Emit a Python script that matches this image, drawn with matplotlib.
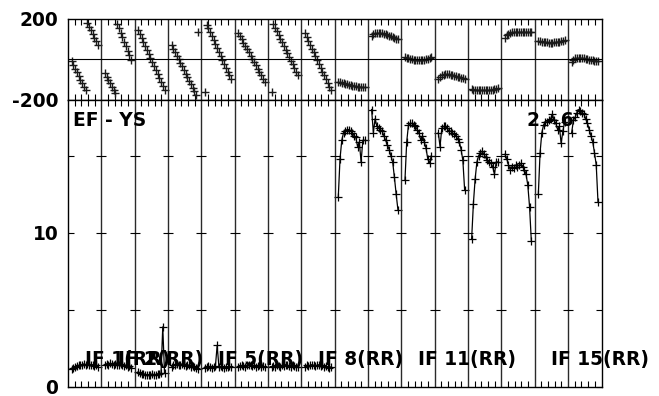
import numpy as np
import matplotlib
matplotlib.use('Agg')
import matplotlib.pyplot as plt

# 16 IFs, 16 channels each
n_if = 16
n_chan = 16
chan = np.arange(n_chan)

# phase (deg) per IF
phase_01 = [-10, -28, -46, -65, -83, -101, -119, -137, -155, 178, 161, 143, 125, 107, 90, 72]
phase_02 = [-70, -87, -104, -120, -137, -153, -168, 175, 153, 131, 109, 87, 64, 42, 20, -2]
phase_03 = [145, 125, 105, 85, 65, 45, 25, 5, -15, -35, -55, -75, -95, -115, -135, -155]
phase_04 = [70, 52, 35, 17, -1, -18, -36, -54, -71, -89, -107, -124, -142, -160, -178, 137]
phase_05 = [-163, 172, 153, 133, 114, 94, 75, 56, 36, 17, -3, -22, -41, -61, -80, -99]
phase_06 = [132, 116, 99, 83, 67, 50, 34, 18, 1, -15, -31, -48, -64, -80, -97, -113]
phase_07 = [-163, 175, 157, 139, 120, 102, 84, 66, 48, 29, 11, -7, -25, -44, -62, -80]
phase_08 = [128, 109, 90, 71, 53, 34, 15, -4, -23, -42, -61, -80, -98, -117, -136, -155]
phase_09 = [-112, -115, -118, -120, -123, -125, -127, -129, -131, -133, -135, -136, -138, -139, -139, -137]
phase_10 = [118, 126, 130, 132, 132, 131, 129, 127, 124, 121, 118, 114, 110, 106, 102, 100]
phase_11 = [10, 7, 4, 2, 0, -2, -3, -4, -5, -5, -4, -2, 0, 3, 7, 12]
phase_12 = [-98, -88, -80, -76, -74, -74, -75, -77, -79, -81, -84, -86, -89, -92, -95, -97]
phase_13 = [-150, -151, -152, -153, -154, -155, -155, -155, -155, -154, -153, -152, -151, -149, -147, -143]
phase_14 = [108, 120, 127, 131, 134, 136, 137, 137, 137, 137, 136, 136, 135, 134, 134, 133]
phase_15 = [92, 90, 88, 86, 85, 84, 83, 83, 83, 84, 85, 86, 88, 90, 93, 98]
phase_16 = [-13, -2, 5, 8, 8, 7, 6, 4, 2, 0, -2, -4, -6, -8, -9, -10]

# amplitude per IF
amp_01 = [1.15, 1.25, 1.3, 1.35, 1.4, 1.45, 1.4, 1.5, 1.45, 1.5, 1.45, 1.4, 1.45, 1.35, 1.4, 1.3]
amp_02 = [1.45, 1.5, 1.45, 1.55, 1.5, 1.45, 1.5, 1.4, 1.45, 1.5, 1.4, 1.35, 1.4, 1.3, 1.35, 1.25]
amp_03 = [1.0, 0.9, 0.85, 0.85, 0.8, 0.8, 0.8, 0.8, 0.85, 0.8, 0.8, 0.85, 0.85, 0.9, 3.9, 0.9]
amp_04 = [1.3, 1.4, 1.45, 1.5, 1.4, 1.45, 1.5, 1.4, 1.35, 1.45, 1.4, 1.3, 1.35, 1.3, 1.25, 1.2]
amp_05 = [1.25, 1.3, 1.35, 1.3, 1.25, 1.3, 1.35, 2.7, 1.3, 1.35, 1.3, 1.25, 1.3, 1.3, 1.35, 1.3]
amp_06 = [1.3, 1.35, 1.4, 1.35, 1.3, 1.4, 1.45, 1.4, 1.35, 1.4, 1.3, 1.35, 1.4, 1.3, 1.35, 1.3]
amp_07 = [1.3, 1.35, 1.3, 1.4, 1.35, 1.3, 1.4, 1.35, 1.45, 1.4, 1.35, 1.3, 1.4, 1.35, 1.3, 1.3]
amp_08 = [1.3, 1.4, 1.35, 1.4, 1.45, 1.4, 1.35, 1.4, 1.45, 1.35, 1.4, 1.3, 1.35, 1.3, 1.25, 1.3]
amp_09 = [12.3, 14.8, 16.0, 16.5, 16.6, 16.7, 16.7, 16.6, 16.5, 16.3, 16.2, 15.6, 15.9, 14.6, 16.0, 16.0]
amp_10 = [18.0, 16.5, 17.4, 16.9, 16.8, 16.7, 16.6, 16.3, 16.0, 15.7, 15.4, 15.0, 14.6, 13.6, 12.5, 11.5]
amp_11 = [13.4, 15.9, 17.0, 17.1, 17.1, 17.0, 16.9, 16.7, 16.5, 16.0, 16.3, 15.9, 15.5, 14.8, 14.5, 15.0]
amp_12 = [16.5, 15.6, 16.8, 16.9, 16.9, 16.8, 16.6, 16.6, 16.5, 16.4, 16.3, 16.1, 15.9, 15.4, 14.7, 12.8]
amp_13 = [9.6, 11.9, 13.5, 14.6, 15.0, 15.2, 15.3, 15.1, 14.9, 14.7, 14.6, 14.5, 14.3, 13.8, 14.6, 14.6]
amp_14 = [15.1, 14.8, 14.4, 14.1, 14.3, 14.2, 14.4, 14.3, 14.4, 14.5, 14.3, 14.1, 13.8, 13.1, 11.7, 9.5]
amp_15 = [12.5, 15.2, 16.5, 17.0, 17.2, 17.2, 17.3, 17.4, 17.7, 17.3, 17.1, 16.7, 16.9, 15.8, 16.6, 17.2]
amp_16 = [16.5, 17.3, 17.5, 17.8, 18.0, 17.9, 17.8, 17.7, 17.4, 17.1, 16.7, 16.3, 15.9, 15.2, 14.4, 12.0]

phases = [phase_01, phase_02, phase_03, phase_04, phase_05, phase_06, phase_07, phase_08,
          phase_09, phase_10, phase_11, phase_12, phase_13, phase_14, phase_15, phase_16]
amps = [amp_01, amp_02, amp_03, amp_04, amp_05, amp_06, amp_07, amp_08,
        amp_09, amp_10, amp_11, amp_12, amp_13, amp_14, amp_15, amp_16]

baseline_name = 'EF - YS'
baseline_num = '2 - 6'
label_ifs = [1, 2, 5, 8, 11, 15]
label_texts = ['IF 1(RR)', 'IF 2(RR)', 'IF 5(RR)', 'IF 8(RR)', 'IF 11(RR)', 'IF 15(RR)']

plt.rcParams['font.family'] = 'DejaVu Sans'
plt.rcParams['font.weight'] = 'bold'
plt.rcParams['font.size'] = 13.4

W, H = 659, 396
fig = plt.figure(figsize=(W / 100, H / 100), dpi=100)
x0, x1 = 68, 601.5
ax_ph = fig.add_axes([x0 / W, 1 - 99.5 / H, (x1 - x0) / W, 80.5 / H])
ax_am = fig.add_axes([x0 / W, 1 - 387 / H, (x1 - x0) / W, 287.5 / H])

span = 19  # x units per IF panel
for k in range(n_if):
    x = k * span + 2 + chan
    ax_ph.plot(x, phases[k], ls='none', marker='+', ms=5.5, mew=1.0, color='#1a1a1a')
    ax_am.plot(x, amps[k], '-', lw=0.9, color='k', marker='+', ms=5.5, mew=0.9)

minor = [k * span + f * span for k in range(n_if) for f in (0.2, 0.4, 0.6, 0.8)]
for ax in (ax_ph, ax_am):
    ax.set_xlim(0, n_if * span)
    for k in range(1, n_if):
        ax.axvline(k * span, color='#2a2a2a', lw=1.0)
    ax.set_xticks(minor)
    ax.tick_params(axis='x', direction='in', length=4, width=0.8,
                   top=True, bottom=True, labelbottom=False)
    for s in ax.spines.values():
        s.set_linewidth(1.0)

# phase panel
ax_ph.set_ylim(-200, 200)
ax_ph.set_yticks([-200, 200])
ax_ph.set_yticklabels(['-200', '200'])
ax_ph.axhline(0, color='k', lw=0.8)
ax_ph.tick_params(axis='y', length=0, pad=7)

# amplitude panel
ax_am.set_ylim(0, 18.65)
ax_am.set_yticks([0, 5, 10, 15])
ax_am.set_yticklabels(['0', '', '10', ''])
ax_am.tick_params(axis='y', direction='in', length=4, width=0.8,
                  left=True, right=True, pad=7)
for k in range(1, n_if):
    ax_am.plot([k * span] * 3, [5, 10, 15], ls='none', marker='_', ms=7, mew=0.8, color='k')

ax_am.text(3.0, 16.95, baseline_name, ha='left', va='baseline', zorder=5)
ax_am.text(261.7, 16.95, baseline_num, ha='left', va='baseline', zorder=5)
for i, lab in zip(label_ifs, label_texts):
    ax_am.text((i - 1) * span + span / 2, 1.43, lab, ha='left', va='baseline', zorder=5)

fig.savefig('out.png', dpi=100)
